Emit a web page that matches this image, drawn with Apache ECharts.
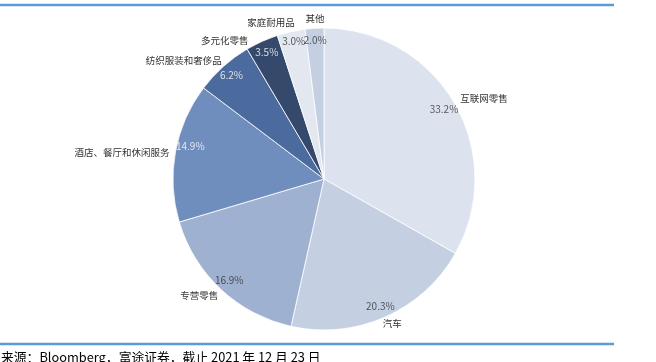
<!DOCTYPE html>
<html><head><meta charset="utf-8">
<script src="https://cdn.jsdelivr.net/npm/echarts@6/dist/echarts.min.js"></script>
<style>html,body{margin:0;padding:0;background:#fff}#c{width:656px;height:362px}</style>
</head><body><div id="c"></div>
<script>
const categories = ['互联网零售','汽车','专营零售','酒店、餐厅和休闲服务','纺织服装和奢侈品','多元化零售','家庭耐用品','其他'];
const values = [33.2, 20.3, 16.9, 14.9, 6.2, 3.5, 3.0, 2.0];
const colors = ['#dce3ee','#c4cfe2','#9fb1d0','#6f8dbd','#4b6b9e','#34496b','#e2e7f0','#c4cfe2'];
const pctColors = ['#333','#333','#333','#fff','#fff','#fff','#333','#333'];
const sourceText = '来源：Bloomberg，富途证券，截止 2021 年 12 月 23 日';

const FONT = '"Noto Sans CJK SC", sans-serif';
const chart = echarts.init(document.getElementById('c'));
const center = [324, 179];
const R = 151;
// small label nudges (styling only)
const nameOffsets = [[0,-4],[-8,5],[3,5],[0,0],[4,-5],[-8,0],[9,-8],[15,-9]];
const pctOffsets = [[0,0],[0,0],[0,0],[3,-8],[0,0],[0,0],[0,-2],[0,0]];
const total = values.reduce((a, b) => a + b, 0);
let cum = 0;
const pctPoints = values.map((v, i) => {
  const mid = cum + v / 2; cum += v;
  return { value: [0.92, mid], label: { color: pctColors[i], offset: pctOffsets[i] } };
});
chart.setOption({
  animation: false,
  title: { text: sourceText, left: -4, top: 346, textStyle: { fontSize: 12.8, fontWeight: 'normal', color: '#000', fontFamily: FONT } },
  graphic: [
    { type: 'line', shape: { x1: 0, y1: 5, x2: 614, y2: 5 }, style: { stroke: '#5b9bd5', lineWidth: 2.5 } },
    { type: 'line', shape: { x1: 0, y1: 344, x2: 614, y2: 344 }, style: { stroke: '#5b9bd5', lineWidth: 2.5 } }
  ],
  polar: { center: center, radius: R },
  angleAxis: { type: 'value', min: 0, max: total, startAngle: 90, clockwise: true, show: false },
  radiusAxis: { type: 'value', min: 0, max: 1, show: false },
  series: [
    {
      type: 'pie', center: center, radius: [0, R], startAngle: 90, clockwise: true,
      avoidLabelOverlap: false, z: 1,
      itemStyle: { borderColor: '#fff', borderWidth: 0.8 },
      label: { show: true, position: 'outside', formatter: '{b}', fontSize: 9.5, color: '#333', fontFamily: FONT },
      labelLine: { show: false, length: 1, length2: 0 },
      data: categories.map((n, i) => ({ name: n, value: values[i], itemStyle: { color: colors[i] }, label: { offset: nameOffsets[i] } }))
    },
    {
      type: 'scatter', coordinateSystem: 'polar', symbolSize: 0, silent: true, z: 5,
      label: { show: true, position: 'inside', fontSize: 10, fontFamily: FONT,
        formatter: p => values[p.dataIndex].toFixed(1) + '%' },
      data: pctPoints
    }
  ]
});
</script></body></html>
